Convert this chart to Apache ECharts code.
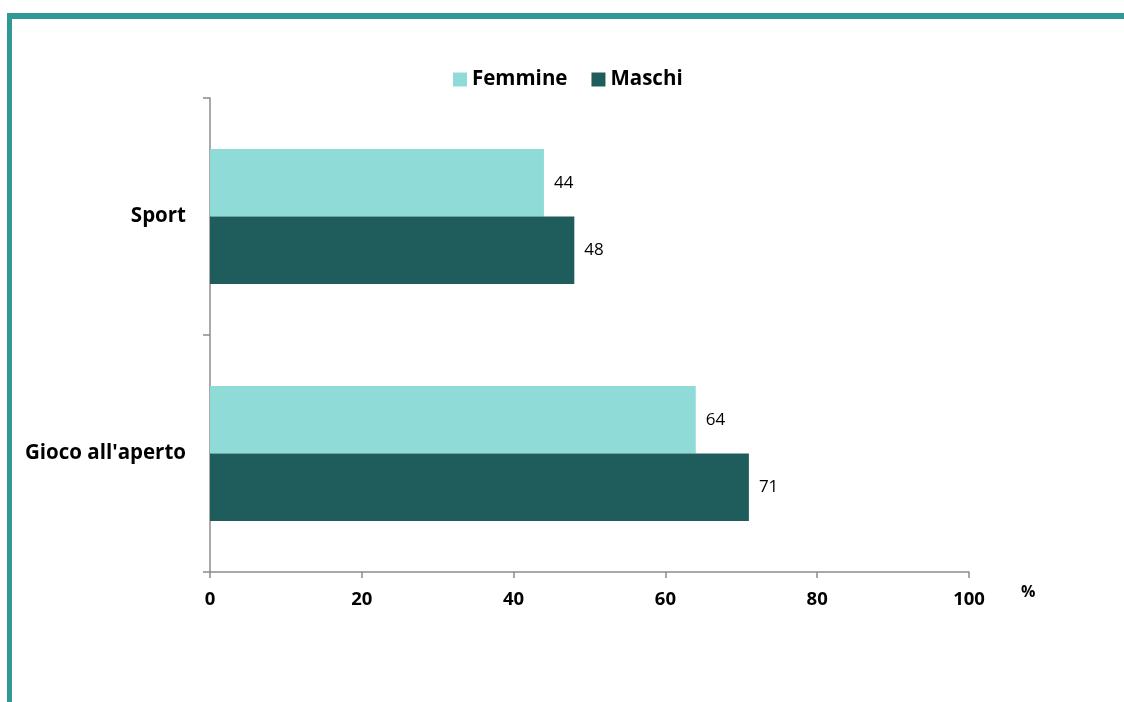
<!DOCTYPE html>
<html>
<head>
<meta charset="utf-8">
<script src="https://cdn.jsdelivr.net/npm/echarts@6/dist/echarts.min.js"></script>
<style>
  html, body { margin: 0; padding: 0; background: #fff; }
  #chart { width: 1124px; height: 702px; }
</style>
</head>
<body>
<div id="chart"></div>
<script>
const categories = ["Sport", "Gioco all'aperto"];
const femmine = [44, 64];
const maschi = [48, 71];
const xTicks = {min: 0, max: 100, interval: 20};

const font = "'Open Sans', 'Noto Sans', sans-serif";
const chart = echarts.init(document.getElementById("chart"));

chart.setOption({
    animation: false,
    textStyle: {fontFamily: font},
    graphic: [
        // teal frame, top and left only
        {type: "rect", shape: {x: 7, y: 13, width: 1117, height: 6}, style: {fill: "#319995"}},
        {type: "rect", shape: {x: 7, y: 13, width: 5, height: 689}, style: {fill: "#319995"}},
        {type: "text", left: 1021, top: 584, style: {text: "%", font: "bold 16px " + font, fill: "#000"}}
    ],
    legend: {
        top: 64,
        left: 448,
        itemWidth: 14,
        itemHeight: 14,
        itemGap: 24,
        icon: "rect",
        textStyle: {fontSize: 20.5, fontWeight: "bold", color: "#000", fontFamily: font},
        data: ["Femmine", "Maschi"]
    },
    grid: {left: 210, right: 155, top: 98, bottom: 130, containLabel: false},
    xAxis: {
        type: "value",
        min: xTicks.min,
        max: xTicks.max,
        interval: xTicks.interval,
        axisLine: {show: true, lineStyle: {color: "#8c8c8c", width: 1.5}},
        axisTick: {show: true, length: 6, lineStyle: {color: "#8c8c8c", width: 1.5}},
        splitLine: {show: false},
        axisLabel: {margin: 18, fontSize: 18.5, fontWeight: "bold", color: "#000", fontFamily: font}
    },
    yAxis: {
        type: "category",
        inverse: true,
        data: categories,
        axisLine: {show: true, lineStyle: {color: "#8c8c8c", width: 1.5}},
        axisTick: {show: true, length: 7, lineStyle: {color: "#8c8c8c", width: 1.5}},
        axisLabel: {margin: 24, padding: [6, 0, 0, 0], fontSize: 20.5, fontWeight: "bold", color: "#000", fontFamily: font}
    },
    series: [
        {
            name: "Femmine",
            type: "bar",
            data: femmine,
            barGap: "0%",
            barCategoryGap: "43%",
            itemStyle: {color: "#8fdbd8"},
            label: {show: true, position: "right", distance: 10, fontSize: 17, color: "#000", fontFamily: font}
        },
        {
            name: "Maschi",
            type: "bar",
            data: maschi,
            barGap: "0%",
            barCategoryGap: "43%",
            itemStyle: {color: "#1f5c5c"},
            label: {show: true, position: "right", distance: 10, fontSize: 17, color: "#000", fontFamily: font}
        }
    ]
});
</script>
</body>
</html>
